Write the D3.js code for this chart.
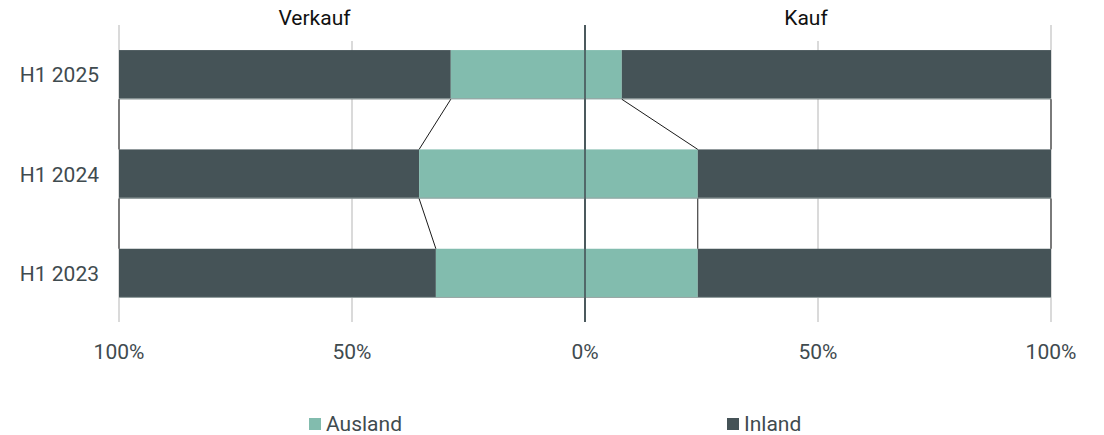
<!DOCTYPE html>
<html><head><meta charset="utf-8">
<script src="https://cdn.jsdelivr.net/npm/d3@7"></script>
<style>body{margin:0;background:#fff}svg{display:block;font-family:Roboto,sans-serif}</style>
</head><body><svg id="c" width="1104" height="435"></svg>
<script>
const categories = ["H1 2025", "H1 2024", "H1 2023"];
const verkaufAusland = [28.8, 35.6, 32.0];
const verkaufInland = [71.2, 64.4, 68.0];
const kaufAusland = [7.9, 24.2, 24.2];
const kaufInland = [92.1, 75.8, 75.8];
const tickValues = [-100, -50, 0, 50, 100];
const tickLabels = ["100%", "50%", "0%", "50%", "100%"];
const sideLabels = ["Verkauf", "Kauf"];
const seriesNames = ["Ausland", "Inland"];
const colors = {Ausland: "#82bcae", Inland: "#455357"};

const svg = d3.select("#c");
const x = d3.scaleLinear().domain([-100, 100]).range([119, 1051]);
const y = d3.scaleBand().domain(categories).range([25, 323]).paddingInner(0.505).paddingOuter(0.2525);

// gridlines
const g = svg.append("g");
tickValues.forEach(v => {
  const top = (Math.abs(v) === 50) ? 41 : 25;
  g.append("line").attr("x1", x(v)).attr("x2", x(v)).attr("y1", top).attr("y2", 322)
    .attr("stroke", v === 0 ? "#455357" : "#b5b5b5").attr("stroke-width", v === 0 ? 1.6 : 1);
});

// bars
const bars = [];
categories.forEach((c, i) => {
  bars.push({c, x0: -verkaufAusland[i] - verkaufInland[i], x1: -verkaufAusland[i], s: "Inland"});
  bars.push({c, x0: -verkaufAusland[i], x1: 0, s: "Ausland"});
  bars.push({c, x0: 0, x1: kaufAusland[i], s: "Ausland"});
  bars.push({c, x0: kaufAusland[i], x1: kaufAusland[i] + kaufInland[i], s: "Inland"});
});
svg.append("g").selectAll("rect").data(bars).join("rect")
  .attr("x", d => x(d.x0)).attr("width", d => x(d.x1) - x(d.x0))
  .attr("y", d => y(d.c)).attr("height", y.bandwidth())
  .attr("fill", d => colors[d.s]);
// bottom edge highlight
svg.append("g").selectAll("line").data(categories).join("line")
  .attr("x1", x(-100)).attr("x2", x(100))
  .attr("y1", d => y(d) + y.bandwidth() - 0.5).attr("y2", d => y(d) + y.bandwidth() - 0.5)
  .attr("stroke", "#9aa5a5").attr("stroke-width", 1);

// redraw zero line over bars
svg.append("line").attr("x1", x(0)).attr("x2", x(0)).attr("y1", 25).attr("y2", 322)
  .attr("stroke", "#455357").attr("stroke-width", 1.6);

// connectors
const conn = svg.append("g").attr("stroke", "#1a1a1a").attr("stroke-width", 1).attr("fill", "none");
for (let i = 0; i < categories.length - 1; i++) {
  const yb = y(categories[i]) + y.bandwidth();
  const yt = y(categories[i + 1]);
  const pairs = [
    [-verkaufAusland[i] - verkaufInland[i], -verkaufAusland[i + 1] - verkaufInland[i + 1]],
    [-verkaufAusland[i], -verkaufAusland[i + 1]],
    [kaufAusland[i], kaufAusland[i + 1]],
    [kaufAusland[i] + kaufInland[i], kaufAusland[i + 1] + kaufInland[i + 1]]
  ];
  pairs.forEach(p => conn.append("line").attr("x1", x(p[0])).attr("y1", yb).attr("x2", x(p[1])).attr("y2", yt));
}

// category labels
svg.append("g").selectAll("text").data(categories).join("text")
  .attr("x", 99).attr("y", d => y(d) + y.bandwidth() / 2 + 7.5)
  .attr("text-anchor", "end").attr("font-size", 21).attr("fill", "#3f4b4f").text(d => d);

// tick labels
svg.append("g").selectAll("text").data(tickValues).join("text")
  .attr("x", d => x(d)).attr("y", 359).attr("text-anchor", "middle")
  .attr("font-size", 21).attr("fill", "#3f4b4f").text((d, i) => tickLabels[i]);

// side labels
svg.append("text").attr("x", 314.5).attr("y", 25).attr("text-anchor", "middle")
  .attr("font-size", 21).attr("fill", "#111").text(sideLabels[0]);
svg.append("text").attr("x", 806).attr("y", 25).attr("text-anchor", "middle")
  .attr("font-size", 21).attr("fill", "#111").text(sideLabels[1]);

// legend
const legX = [309, 727];
seriesNames.forEach((s, i) => {
  svg.append("rect").attr("x", legX[i]).attr("y", 418).attr("width", 12).attr("height", 12).attr("fill", colors[s]);
  svg.append("text").attr("x", legX[i] + 17).attr("y", 431).attr("font-size", 21).attr("fill", "#3f4b4f").text(s);
});
</script></body></html>
